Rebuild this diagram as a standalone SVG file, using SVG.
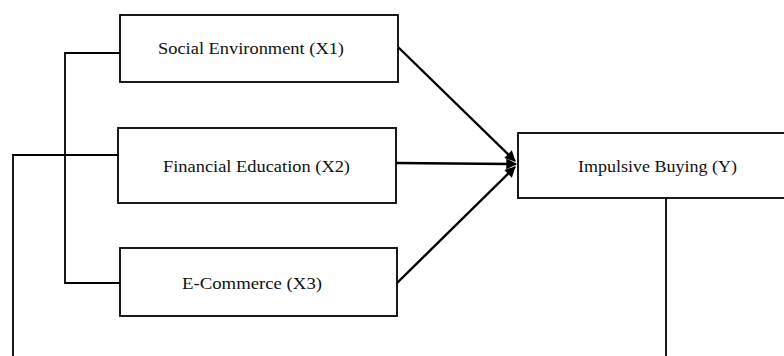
<svg xmlns="http://www.w3.org/2000/svg" width="784" height="356" viewBox="0 0 784 356">
<style>
.box{fill:#fff;stroke:#000;stroke-width:1.8}
.lbl{font-family:"Liberation Serif","Times New Roman",serif;font-size:16px;fill:#111;text-anchor:middle;dominant-baseline:central}
.ln{fill:none;stroke:#000;stroke-width:1.8}
.arr{fill:none;stroke:#000;stroke-width:2.4;marker-end:url(#ah)}
</style>
<defs>
<marker id="ah" viewBox="0 0 10 10" refX="9" refY="5" markerWidth="5" markerHeight="4.5" orient="auto" markerUnits="strokeWidth">
<path d="M0,0 L10,5 L0,10 z" fill="#000"/>
</marker>
</defs>
<rect width="784" height="356" fill="#fff"/>
<g id="connectors">
<polyline class="ln" points="120,53 65,53 65,283 120,283"/>
<polyline class="ln" points="118,155 13,155 13,356"/>
<line class="ln" x1="666" y1="198" x2="666" y2="356"/>
<line class="arr" x1="398" y1="47" x2="515" y2="161"/>
<line class="arr" x1="396" y1="163" x2="516" y2="164"/>
<line class="arr" x1="397" y1="283" x2="515" y2="167"/>
</g>
<g id="x1">
<rect class="box" x="120" y="15" width="278" height="67"/>
<text class="lbl" x="251" y="48" textLength="186" lengthAdjust="spacingAndGlyphs">Social Environment (X1)</text>
</g>
<g id="x2">
<rect class="box" x="118" y="128" width="278" height="75"/>
<text class="lbl" x="256.5" y="166" textLength="187" lengthAdjust="spacingAndGlyphs">Financial Education (X2)</text>
</g>
<g id="x3">
<rect class="box" x="120" y="248" width="277" height="68"/>
<text class="lbl" x="252" y="283" textLength="140" lengthAdjust="spacingAndGlyphs">E-Commerce (X3)</text>
</g>
<g id="y">
<rect class="box" x="518" y="133" width="268" height="65"/>
<text class="lbl" x="657.5" y="166" textLength="159" lengthAdjust="spacingAndGlyphs">Impulsive Buying (Y)</text>
</g>
</svg>
